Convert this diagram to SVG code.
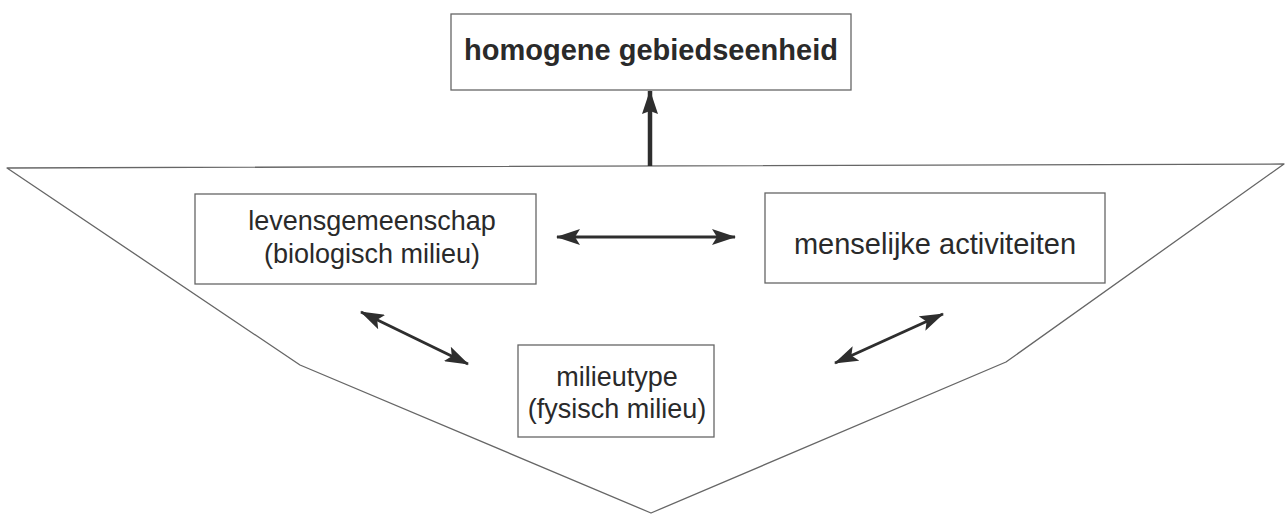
<svg xmlns="http://www.w3.org/2000/svg" width="1286" height="514" viewBox="0 0 1286 514">
<defs>
<style>
.box{fill:#fff;stroke:#666;stroke-width:1.3}
.t{font-family:"Liberation Sans",Arial,sans-serif;font-size:27px;fill:#2a2a2a;text-anchor:middle}
.tl{font-size:29px}
.tb{font-family:"Liberation Sans",Arial,sans-serif;font-size:29px;font-weight:bold;fill:#2a2a2a;text-anchor:middle}
.outline{fill:none;stroke:#666;stroke-width:1.3;stroke-linejoin:round}
.arr{stroke:#2e2e2e;stroke-width:3;fill:none;marker-start:url(#ah);marker-end:url(#ah)}
.up{stroke:#2e2e2e;stroke-width:4.5;fill:none;marker-end:url(#ahb)}
</style>
<marker id="ah" markerUnits="userSpaceOnUse" viewBox="0 0 24 16" markerWidth="24" markerHeight="16" refX="23" refY="8" orient="auto-start-reverse">
<path d="M0,0 L24,8 L0,16 L5,8 Z" fill="#2e2e2e"/>
</marker>
<marker id="ahb" markerUnits="userSpaceOnUse" viewBox="0 0 24 16" markerWidth="24" markerHeight="16" refX="23" refY="8" orient="auto">
<path d="M0,0 L24,8 L0,16 L3,8 Z" fill="#2e2e2e"/>
</marker>
</defs>
<rect width="1286" height="514" fill="#fff"/>
<g id="funnel">
<path class="outline" d="M7,168 L1284,164 L1006,362 L651,513 L300,365 Z"/>
</g>
<g id="connectors">
<line class="up" x1="650" y1="166" x2="650" y2="91"/>
<line class="arr" x1="557" y1="237" x2="735" y2="237"/>
<line class="arr" x1="361" y1="312" x2="468" y2="364"/>
<line class="arr" x1="835" y1="363" x2="943" y2="314"/>
</g>
<g id="top">
<rect class="box" x="451" y="14" width="400" height="76"/>
<text class="tb" x="651" y="60">homogene gebiedseenheid</text>
</g>
<g id="levensgemeenschap">
<rect class="box" x="195" y="194" width="341" height="90"/>
<text class="t" x="372" y="230">levensgemeenschap</text>
<text class="t" x="372" y="263">(biologisch milieu)</text>
</g>
<g id="menselijk">
<rect class="box" x="765" y="193" width="340" height="90"/>
<text class="t tl" x="935" y="254">menselijke activiteiten</text>
</g>
<g id="milieutype">
<rect class="box" x="518" y="345" width="196" height="92"/>
<text class="t" x="617" y="386">milieutype</text>
<text class="t" x="617" y="418">(fysisch milieu)</text>
</g>
</svg>
